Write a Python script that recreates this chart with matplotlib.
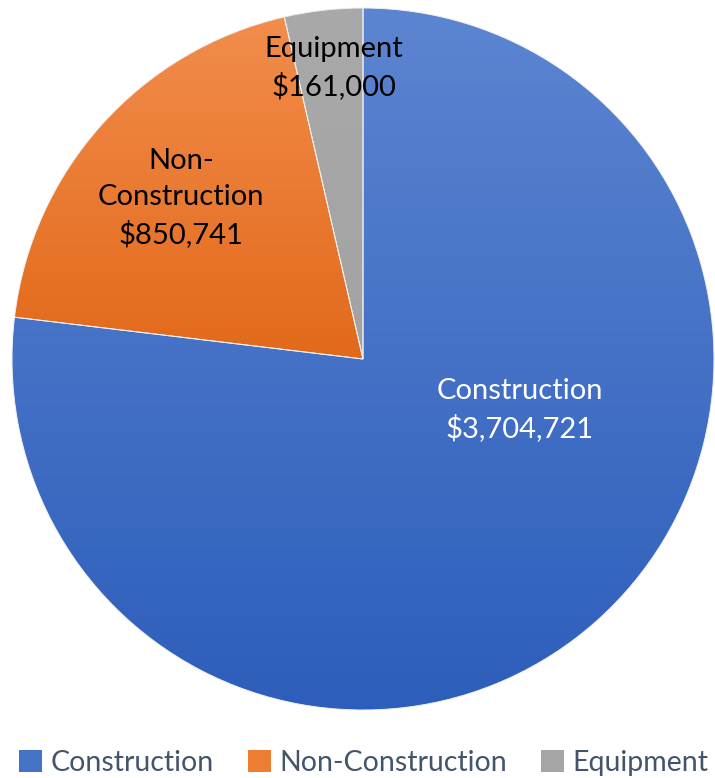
import numpy as np
import matplotlib.pyplot as plt
from matplotlib.colors import LinearSegmentedColormap
from matplotlib.patches import Patch

categorias = ["Construction", "Non-Construction", "Equipment"]
# tamaño de cada rebanada, medido en el dibujo (%)
porciones = [76.9, 19.5, 3.6]
etiquetas = ["Construction\n$3,704,721", "Non-\nConstruction\n$850,741", "Equipment\n$161,000"]
# colores arriba / abajo del degradado
colores_arriba = ["#5C85D1", "#F28D4C", "#A9A9A9"]
colores_abajo = ["#2D5EBB", "#E2691A", "#A3A3A3"]
colores_leyenda = ["#4472C4", "#ED7D31", "#A5A5A5"]

fig = plt.figure(figsize=(7.15, 7.78), dpi=100)
ax = fig.add_axes([0, 0, 1, 1])

centro = (363, 419)
radio = 351

cunas, _ = ax.pie(porciones, startangle=90, counterclock=False, center=centro,
                  radius=radio, frame=True)
ax.set_xlim(0, 715)
ax.set_ylim(0, 778)
ax.set_aspect("equal")
ax.axis("off")

fig.canvas.draw()
for cuna, c1, c2 in zip(cunas, colores_arriba, colores_abajo):
    bb = cuna.get_window_extent().transformed(ax.transData.inverted())
    cmap = LinearSegmentedColormap.from_list("g", [c2, c1])
    grad = np.linspace(0, 1, 256).reshape(-1, 1)
    im = ax.imshow(grad, cmap=cmap, origin="lower", aspect="auto",
                   extent=[bb.x0, bb.x1, bb.y0, bb.y1], zorder=1)
    im.set_clip_path(cuna)
    cuna.set_facecolor("none")
    cuna.set_edgecolor("#F0F0F0")
    cuna.set_linewidth(0.7)
    cuna.set_zorder(2)

fuente = "Lato"
tam = 21
ax.text(520, 778 - 410, etiquetas[0], color="white", ha="center", va="center",
        fontsize=tam, family=fuente, linespacing=1.45, zorder=3)
ax.text(181, 778 - 198, etiquetas[1], color="black", ha="center", va="center",
        fontsize=tam, family=fuente, linespacing=1.45, zorder=3)
ax.text(334, 778 - 68, etiquetas[2], color="black", ha="center", va="center",
        fontsize=tam, family=fuente, linespacing=1.45, zorder=3)

manejadores = [Patch(facecolor=c, label=n) for c, n in zip(colores_leyenda, categorias)]
ax.legend(handles=manejadores, loc="center", bbox_to_anchor=(364 / 715, 15 / 778),
          ncol=3, frameon=False, prop={"family": fuente, "size": 20.5},
          handlelength=0.8, handleheight=0.8, handletextpad=0.3, columnspacing=1.2,
          labelcolor="#44546A", borderpad=0, borderaxespad=0)

fig.savefig("out.png", dpi=100)
